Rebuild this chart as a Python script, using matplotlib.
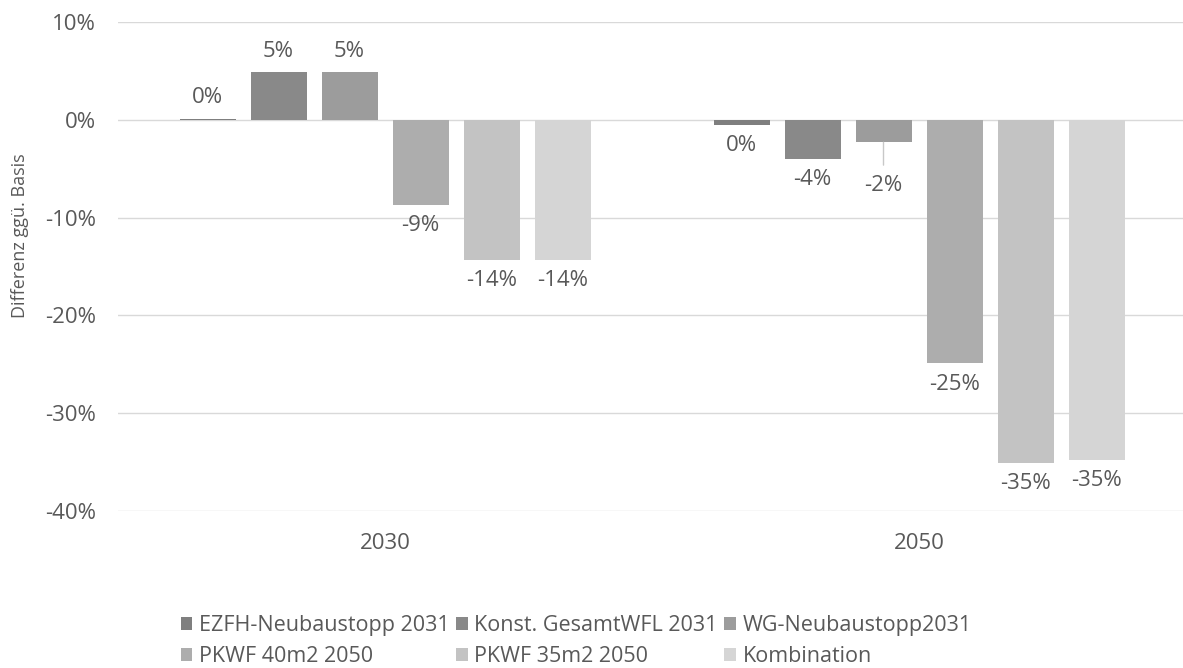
import numpy as np
import matplotlib
matplotlib.use("Agg")
import matplotlib.pyplot as plt

plt.rcParams["font.family"] = ["Open Sans", "DejaVu Sans"]

years = ["2030", "2050"]
series = ["EZFH-Neubaustopp 2031", "Konst. GesamtWFL 2031", "WG-Neubaustopp2031",
          "PKWF 40m2 2050", "PKWF 35m2 2050", "Kombination"]
# values in % per series: [2030, 2050]
ezfh = [0.1, -0.5]
konst = [4.9, -4.0]
wg = [4.9, -2.3]
pkwf40 = [-8.7, -24.9]
pkwf35 = [-14.3, -35.1]
kombi = [-14.3, -34.8]
values = [ezfh, konst, wg, pkwf40, pkwf35, kombi]
colors = ["#7f7f7f", "#898989", "#9c9c9c", "#adadad", "#c3c3c3", "#d5d5d5"]

text_col = "#595959"
W, H = 1183, 668
fig = plt.figure(figsize=(W / 100, H / 100), dpi=100)
ax = fig.add_axes([118 / W, 1 - 511 / H, (W - 118) / W, (511 - 22) / H])

x = np.arange(len(years))
slot = 71 / 534
width = 56 / 534
handles = []
for i, (name, vals, c) in enumerate(zip(series, values, colors)):
    pos = x + (i - 2.5) * slot
    handles.append(ax.bar(pos, vals, width, color=c, label=name, zorder=2))
    for xi, v in zip(pos, vals):
        lab = f"{int(round(v))}%"
        if name == "WG-Neubaustopp2031" and v < 0:
            # label pushed down, with a leader line back to the bar
            ax.annotate(lab, xy=(xi, v), xytext=(0, -31), textcoords="offset points",
                        ha="center", va="center", fontsize=16, color=text_col,
                        arrowprops=dict(arrowstyle="-", color="#c8c8c8", lw=1,
                                        shrinkA=5, shrinkB=0))
        else:
            off = 15 if v >= 0 else -15
            ax.annotate(lab, xy=(xi, v), xytext=(0, off), textcoords="offset points",
                        ha="center", va="center", fontsize=16, color=text_col)

ax.set_xlim(-0.5, 1.5 - 3 / 534)
ax.set_ylim(-40, 10)
ax.set_yticks(np.arange(-40, 11, 10))
ax.set_yticklabels([f"{t}%" for t in range(-40, 11, 10)])
ax.set_xticks(x)
ax.set_xticklabels(years)
ax.tick_params(axis="both", length=0, labelsize=16, labelcolor=text_col)
ax.tick_params(axis="y", pad=16)
ax.tick_params(axis="x", pad=16)
ax.grid(axis="y", color="#d9d9d9", lw=1, zorder=0)
for s in ax.spines.values():
    s.set_visible(False)
ax.set_ylabel("Differenz ggü. Basis", fontsize=13, color=text_col)
ax.yaxis.set_label_coords(-0.084, 0.564)

# matplotlib fills legend columns first; reorder so entries run row by row
order = [0, 3, 1, 4, 2, 5]
fig.legend([handles[k] for k in order], [series[k] for k in order],
           loc="center", bbox_to_anchor=(0.487, 1 - 641 / H), ncol=3, frameon=False,
           fontsize=15.5, labelcolor=text_col, handlelength=0.55, handleheight=0.55,
           handletextpad=0.3, columnspacing=0.3, labelspacing=0.45)

fig.savefig("out.png", dpi=100)
